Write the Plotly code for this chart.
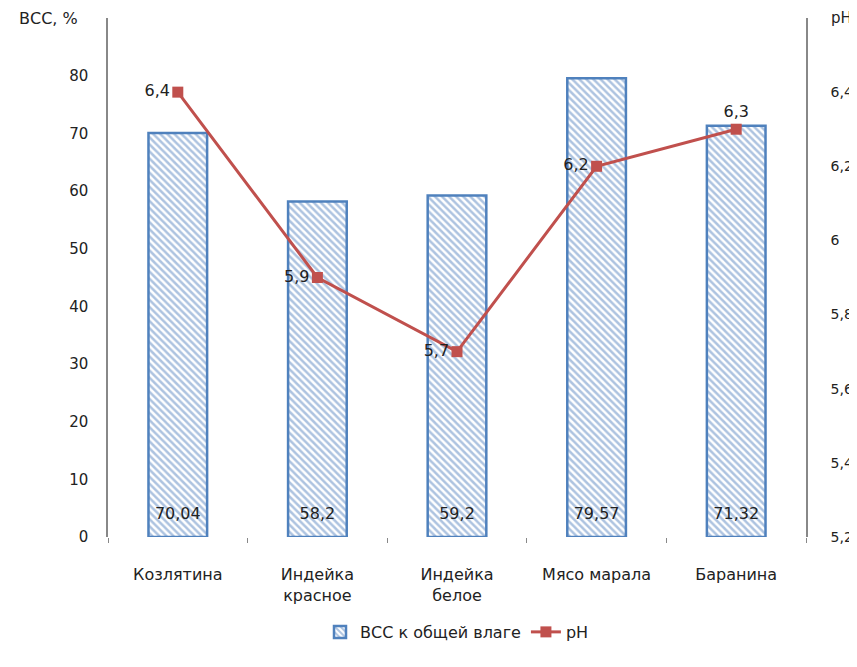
import plotly.graph_objects as go

categories = ["Козлятина", "Индейка<br>красное", "Индейка<br>белое", "Мясо марала", "Баранина"]
vss_values = [70.04, 58.2, 59.2, 79.57, 71.32]
ph_values = [6.4, 5.9, 5.7, 6.2, 6.3]
left_ticks = [0, 10, 20, 30, 40, 50, 60, 70, 80]
right_ticks = [5.2, 5.4, 5.6, 5.8, 6.0, 6.2, 6.4]
right_tick_text = ["5,2", "5,4", "5,6", "5,8", "6", "6,2", "6,4"]

def fmt(v):
    return ("%g" % v).replace(".", ",")

FONT = "DejaVu Sans, Liberation Sans, sans-serif"
TXT = "#222222"

fig = go.Figure()
fig.add_trace(go.Bar(
    x=categories, y=vss_values, name="ВСС к общей влаге",
    marker=dict(color="white", line=dict(color="#4F81BD", width=2.5),
                pattern=dict(shape="\\", fgcolor="#5b87c2", bgcolor="white",
                             size=5, solidity=0.5)),
    width=0.42, yaxis="y",
))
# bar value labels near the bar bottoms
fig.add_trace(go.Scatter(
    x=categories, y=[3.9] * len(categories), mode="text",
    text=[fmt(v) for v in vss_values], showlegend=False, hoverinfo="skip",
    textfont=dict(size=16, color=TXT, family=FONT), yaxis="y",
))
fig.add_trace(go.Scatter(
    x=categories, y=ph_values, name="pH", yaxis="y2",
    mode="lines+markers+text",
    text=[fmt(v) for v in ph_values],
    textposition=["middle left", "middle left", "middle left", "middle left", "top center"],
    textfont=dict(size=16, color=TXT, family=FONT),
    line=dict(color="#C0504D", width=3),
    marker=dict(symbol="square", size=11, color="#C0504D"),
))

fig.update_layout(
    width=849, height=659,
    margin=dict(l=100, r=51, t=10, b=130),
    paper_bgcolor="white", plot_bgcolor="white",
    font=dict(family=FONT, size=15, color=TXT),
    xaxis=dict(showline=False, showgrid=False, ticks="outside", tickson="boundaries",
               ticklen=5, tickcolor="#888888", automargin=False,
               ticklabelstandoff=26,
               tickfont=dict(size=16, color=TXT)),
    yaxis=dict(range=[0, 90], tickvals=left_ticks, showgrid=False, zeroline=False,
               showline=True, linecolor="#888888", linewidth=1.5, automargin=False,
               ticks="", ticklabelstandoff=15,
               tickfont=dict(size=15)),
    yaxis2=dict(range=[5.2, 6.6], overlaying="y", side="right", tickvals=right_ticks,
                ticktext=right_tick_text, showgrid=False, zeroline=False,
                showline=True, linecolor="#888888", linewidth=1.5, automargin=False,
                ticks="", ticklabelstandoff=20,
                tickfont=dict(size=14)),
    legend=dict(orientation="h", x=0.5, y=-0.183, xanchor="center", yanchor="middle",
                font=dict(size=16)),
    showlegend=True,
    annotations=[
        dict(text="ВСС, %", xref="paper", yref="paper", x=-0.13, y=1.0,
             xanchor="left", yanchor="middle", showarrow=False, font=dict(size=16)),
        dict(text="pH", xref="paper", yref="paper", x=1.033, y=1.0,
             xanchor="left", yanchor="middle", showarrow=False, font=dict(size=15)),
    ],
)

fig.write_html("out.html")
